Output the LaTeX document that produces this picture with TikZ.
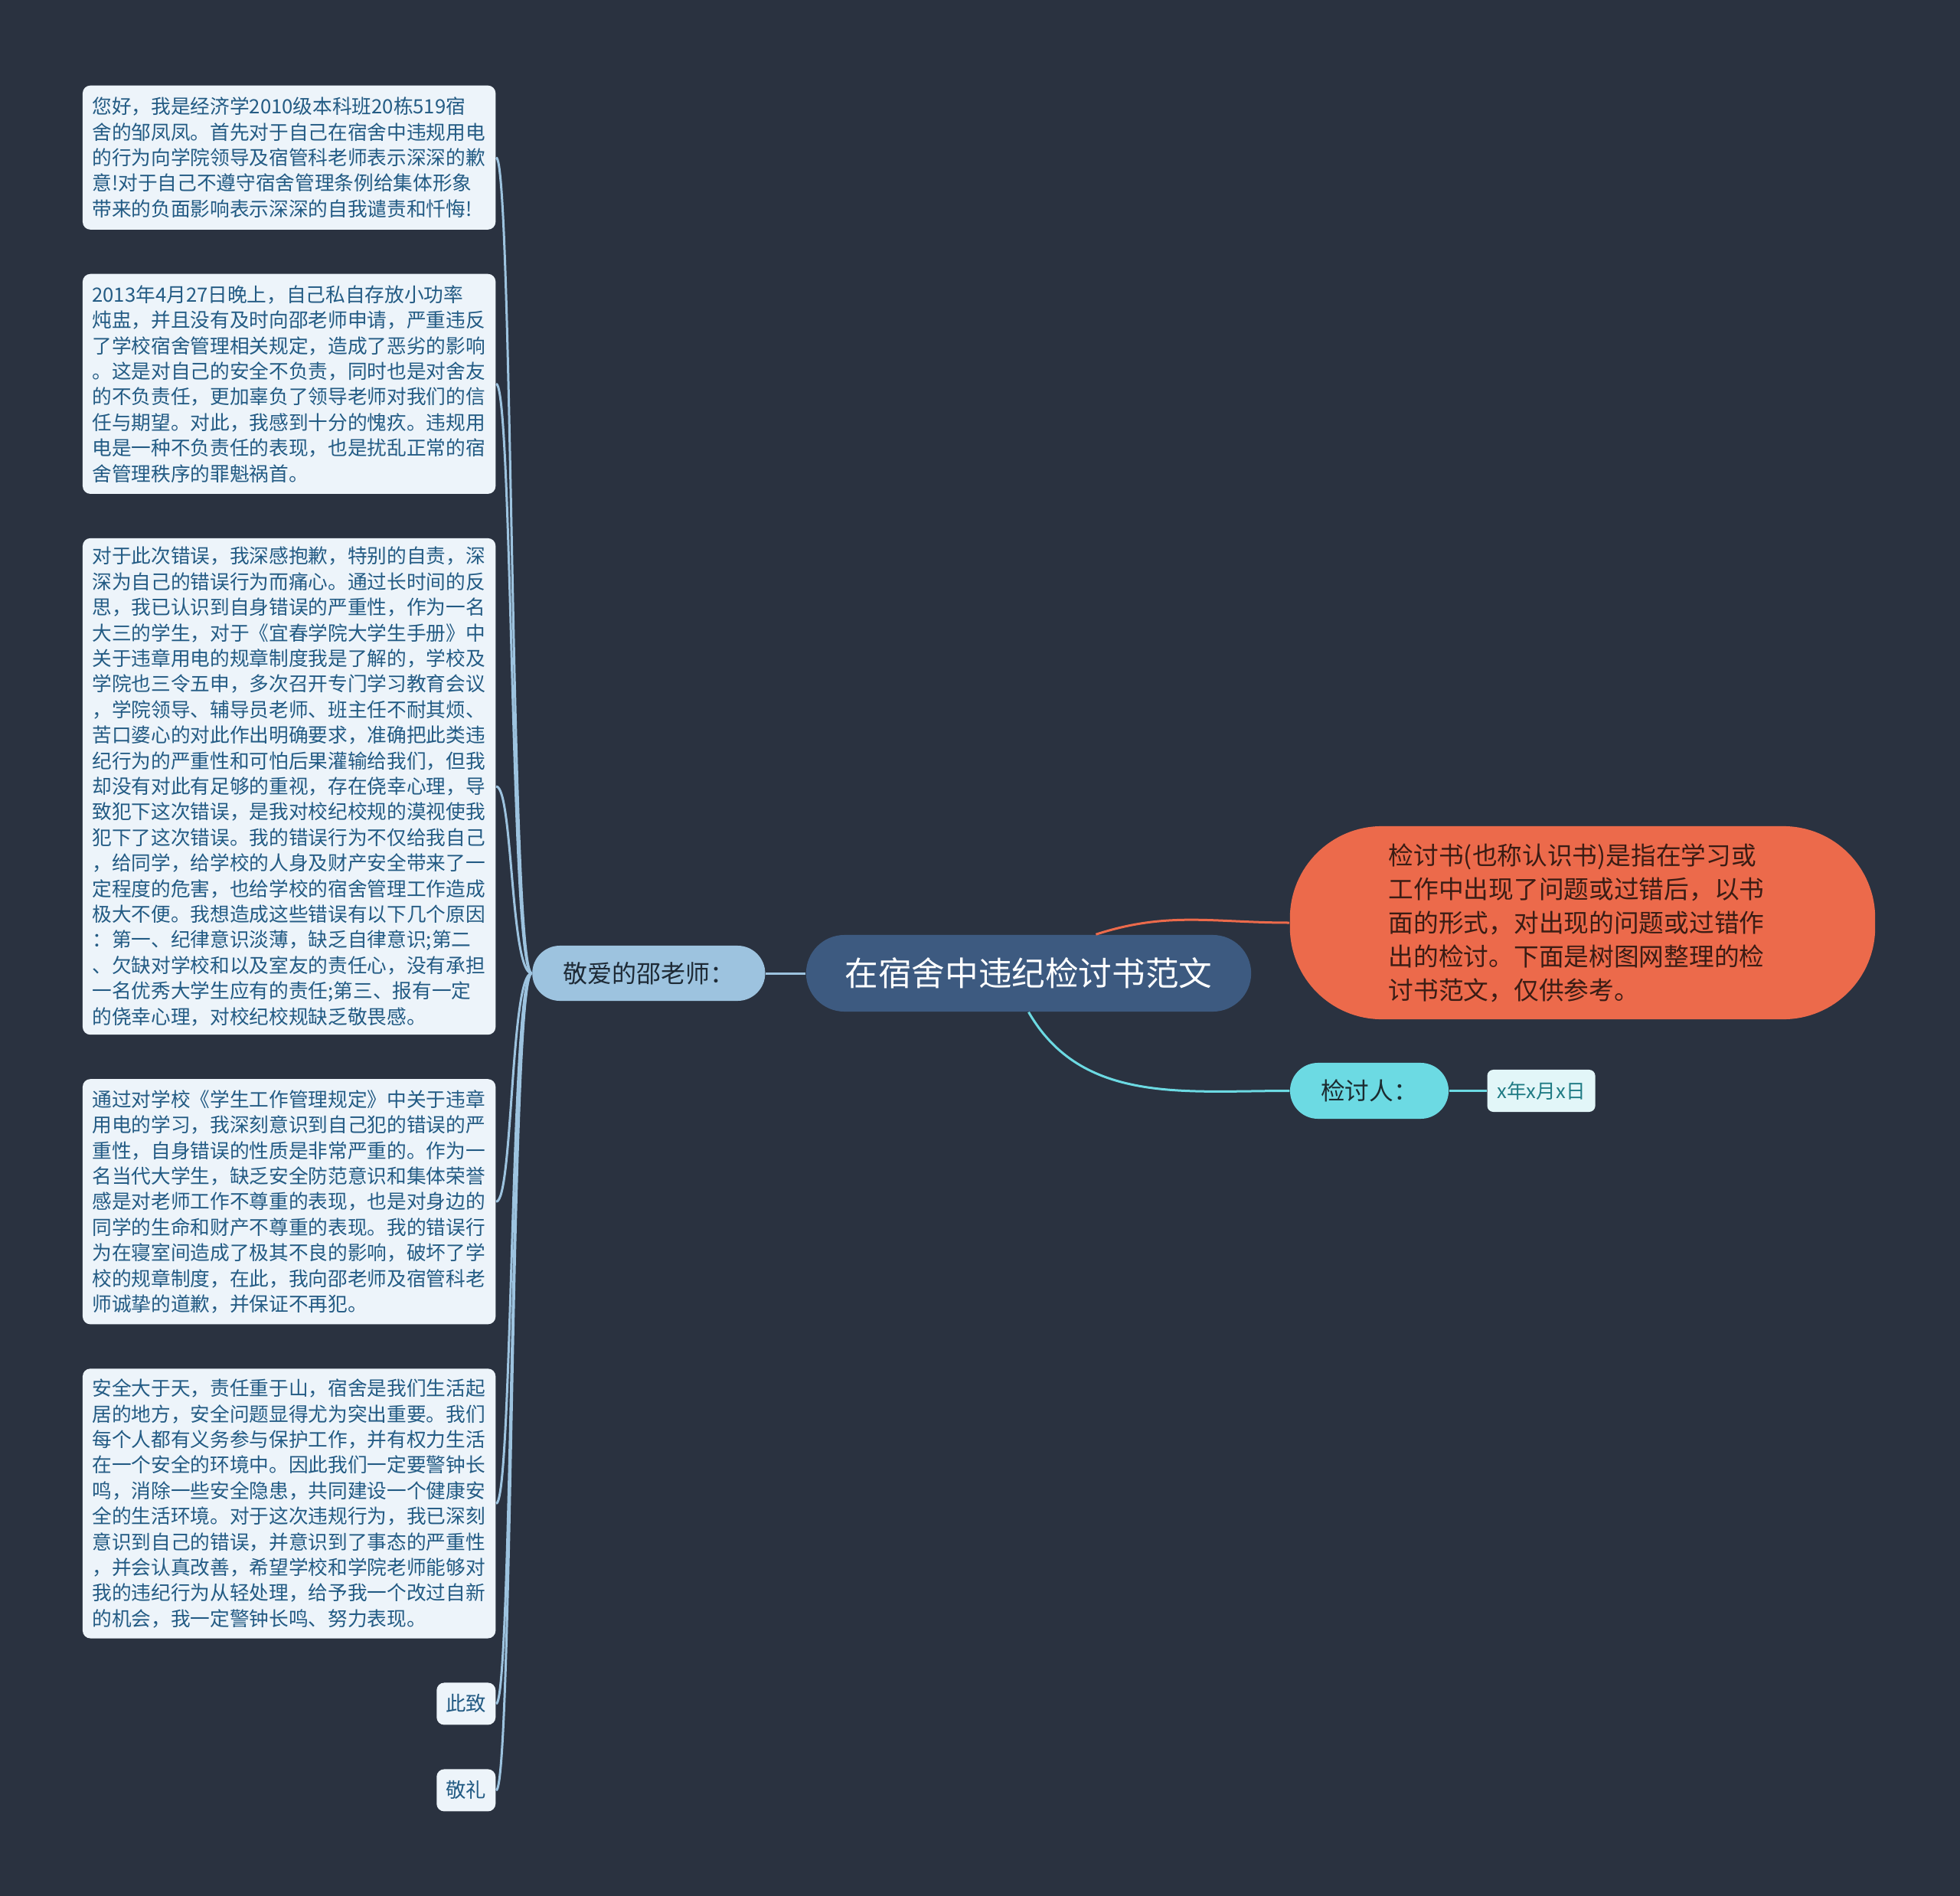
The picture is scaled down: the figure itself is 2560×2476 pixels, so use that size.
\documentclass[tikz,border=0pt]{standalone}
\usepackage{fontspec}
\newfontfamily\cjk{Noto Sans CJK SC}
\usepackage{xcolor}
\definecolor{canvas}{HTML}{2A3240}
\definecolor{rootfill}{HTML}{3D5A80}
\definecolor{teachfill}{HTML}{9DC3DF}
\definecolor{teachink}{HTML}{1E2A36}
\definecolor{notefill}{HTML}{EDF4FA}
\definecolor{noteink}{HTML}{235B84}
\definecolor{introfill}{HTML}{EC6A4B}
\definecolor{introink}{HTML}{3A1C14}
\definecolor{signfill}{HTML}{6CDAE3}
\definecolor{signink}{HTML}{1C2B30}
\definecolor{datefill}{HTML}{E2F6F8}
\definecolor{dateink}{HTML}{1F7B84}
\usetikzlibrary{positioning}

\begin{document}
\begin{tikzpicture}[
    x=0.01cm, y=-0.01cm,
    root/.style={
        rectangle,
        rounded corners=0.5cm,
        fill=rootfill,
        text=white,
        minimum width=5.81cm,
        minimum height=1cm,
        font=\cjk\fontsize{12.4}{15}\selectfont,
    },
    teacher/.style={
        rectangle,
        rounded corners=0.36cm,
        fill=teachfill,
        text=teachink,
        minimum width=3.04cm,
        minimum height=0.72cm,
        font=\cjk\fontsize{9.1}{11}\selectfont,
    },
    intro/.style={
        rectangle,
        rounded corners=1.2cm,
        fill=introfill,
        text=introink,
        text width=5.06cm,
        align=left,
        minimum width=7.64cm,
        minimum height=2.52cm,
        font=\cjk\fontsize{9.3}{12.5}\selectfont,
    },
    signer/.style={
        rectangle,
        rounded corners=0.365cm,
        fill=signfill,
        text=signink,
        minimum width=2.07cm,
        minimum height=0.73cm,
        font=\cjk\fontsize{9}{11}\selectfont,
    },
    datebox/.style={
        rectangle,
        rounded corners=0.08cm,
        fill=datefill,
        text=dateink,
        minimum width=1.41cm,
        minimum height=0.55cm,
        font=\cjk\fontsize{7.3}{9}\selectfont,
    },
    note/.style={
        rectangle,
        rounded corners=0.1cm,
        fill=notefill,
        text=noteink,
        text width=5.14cm,
        inner xsep=0.125cm,
        inner ysep=0pt,
        align=left,
        anchor=north east,
        font=\cjk\fontsize{7.3}{9.5}\selectfont,
    },
    shortnote/.style={
        rectangle,
        rounded corners=0.1cm,
        fill=notefill,
        text=noteink,
        minimum width=0.77cm,
        minimum height=0.55cm,
        inner sep=0pt,
        font=\cjk\fontsize{7.5}{9}\selectfont,
    },
    twig/.style={draw=teachfill, line width=0.03cm},
    introline/.style={draw=introfill, line width=0.03cm},
    signline/.style={draw=signfill, line width=0.03cm},
]

\fill[canvas] (0,0) rectangle (2560,2476);
\useasboundingbox (0,0) rectangle (2560,2476);

\node[root] (root) at (1343.5,1271) {在宿舍中违纪检讨书范文};

\node[teacher, left=0.52cm of root] (teach) {敬爱的邵老师：};

\node[intro] (intro) at (2067,1205)
    {检讨书(也称认识书)是指在学习或\\
     工作中出现了问题或过错后，以书\\
     面的形式，对出现的问题或过错作\\
     出的检讨。下面是树图网整理的检\\
     讨书范文，仅供参考。};

\node[signer] (sign) at (1788.5,1424.5) {检讨人：};
\node[datebox, right=0.49cm of sign] (date) {x年x月x日};

\node[note, minimum height=1.88cm] (p1) at (648,111)
    {您好，我是经济学2010级本科班20栋519宿\\
     舍的邹凤凤。首先对于自己在宿舍中违规用电\\
     的行为向学院领导及宿管科老师表示深深的歉\\
     意!对于自己不遵守宿舍管理条例给集体形象\\
     带来的负面影响表示深深的自我谴责和忏悔!};

\node[note, minimum height=2.87cm, below=0.565cm of p1.south east, anchor=north east] (p2)
    {2013年4月27日晚上，自己私自存放小功率\\
     炖盅，并且没有及时向邵老师申请，严重违反\\
     了学校宿舍管理相关规定，造成了恶劣的影响\\
     。这是对自己的安全不负责，同时也是对舍友\\
     的不负责任，更加辜负了领导老师对我们的信\\
     任与期望。对此，我感到十分的愧疚。违规用\\
     电是一种不负责任的表现，也是扰乱正常的宿\\
     舍管理秩序的罪魁祸首。};

\node[note, minimum height=6.48cm, below=0.565cm of p2.south east, anchor=north east] (p3)
    {对于此次错误，我深感抱歉，特别的自责，深\\
     深为自己的错误行为而痛心。通过长时间的反\\
     思，我已认识到自身错误的严重性，作为一名\\
     大三的学生，对于《宜春学院大学生手册》中\\
     关于违章用电的规章制度我是了解的，学校及\\
     学院也三令五申，多次召开专门学习教育会议\\
     ，学院领导、辅导员老师、班主任不耐其烦、\\
     苦口婆心的对此作出明确要求，准确把此类违\\
     纪行为的严重性和可怕后果灌输给我们，但我\\
     却没有对此有足够的重视，存在侥幸心理，导\\
     致犯下这次错误，是我对校纪校规的漠视使我\\
     犯下了这次错误。我的错误行为不仅给我自己\\
     ，给同学，给学校的人身及财产安全带来了一\\
     定程度的危害，也给学校的宿舍管理工作造成\\
     极大不便。我想造成这些错误有以下几个原因\\
     ：第一、纪律意识淡薄，缺乏自律意识;第二\\
     、欠缺对学校和以及室友的责任心，没有承担\\
     一名优秀大学生应有的责任;第三、报有一定\\
     的侥幸心理，对校纪校规缺乏敬畏感。};

\node[note, minimum height=3.2cm, below=0.565cm of p3.south east, anchor=north east] (p4)
    {通过对学校《学生工作管理规定》中关于违章\\
     用电的学习，我深刻意识到自己犯的错误的严\\
     重性，自身错误的性质是非常严重的。作为一\\
     名当代大学生，缺乏安全防范意识和集体荣誉\\
     感是对老师工作不尊重的表现，也是对身边的\\
     同学的生命和财产不尊重的表现。我的错误行\\
     为在寝室间造成了极其不良的影响，破坏了学\\
     校的规章制度，在此，我向邵老师及宿管科老\\
     师诚挚的道歉，并保证不再犯。};

\node[note, minimum height=3.52cm, below=0.565cm of p4.south east, anchor=north east] (p5)
    {安全大于天，责任重于山，宿舍是我们生活起\\
     居的地方，安全问题显得尤为突出重要。我们\\
     每个人都有义务参与保护工作，并有权力生活\\
     在一个安全的环境中。因此我们一定要警钟长\\
     鸣，消除一些安全隐患，共同建设一个健康安\\
     全的生活环境。对于这次违规行为，我已深刻\\
     意识到自己的错误，并意识到了事态的严重性\\
     ，并会认真改善，希望学校和学院老师能够对\\
     我的违纪行为从轻处理，给予我一个改过自新\\
     的机会，我一定警钟长鸣、努力表现。};

\node[shortnote, below=0.565cm of p5.south east, anchor=north east] (p6) {此致};
\node[shortnote, below=0.565cm of p6.south east, anchor=north east] (p7) {敬礼};

\draw[twig] (root.west) -- (teach.east);
\foreach \n in {p1,p2,p3,p4,p5,p6,p7}
    \draw[twig] (teach.west) .. controls +(-28,0) and +(22,0) .. (\n.east);

\draw[introline] (root.30) to[out=18, in=180] (intro.west);
\draw[signline] (root.south) to[out=-60, in=180] (sign.west);
\draw[signline] (sign.east) -- (date.west);

\end{tikzpicture}
\end{document}
